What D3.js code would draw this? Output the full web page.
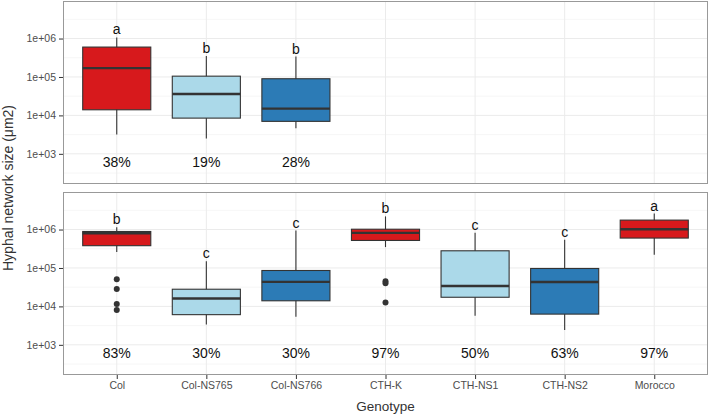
<!DOCTYPE html>
<html>
<head>
<meta charset="utf-8">
<title>Hyphal network size</title>
<style>
  body { margin: 0; background: #fff; }
  svg { display: block; font-family: "Liberation Sans", Arial, sans-serif; }
  .grid-major { stroke: #ebebeb; stroke-width: 1; }
  .grid-minor { stroke: #f4f4f4; stroke-width: 0.8; }
  .tick-lab { fill: #4d4d4d; font-size: 10.5px; }
</style>
</head>
<body>
<svg id="chart" width="709" height="414"></svg>
<script src="https://cdnjs.cloudflare.com/ajax/libs/d3/7.8.5/d3.min.js"></script>
<script>
  // genotypes along the x axis
  const genotypes = ["Col", "Col-NS765", "Col-NS766", "CTH-K", "CTH-NS1", "CTH-NS2", "Morocco"];
  const fills = ["#d7191c", "#abd9e9", "#2c7bb6", "#d7191c", "#abd9e9", "#2c7bb6", "#d7191c"];

  // top panel: lower whisker, Q1, median, Q3, upper whisker
  const topGenotypes = ["Col", "Col-NS765", "Col-NS766"];
  const topLow  = [3200, 2500, 4600];
  const topQ1   = [14000, 8500, 7000];
  const topMed  = [170000, 36000, 15000];
  const topQ3   = [600000, 105000, 90000];
  const topHigh = [1070000, 350000, 340000];
  const topLetters = ["a", "b", "b"];
  const topPct = ["38%", "19%", "28%"];
  const topOutliers = [[], [], []];

  // bottom panel
  const botLow  = [260000, 3400, 5400, 350000, 5700, 2450, 220000];
  const botQ1   = [380000, 6100, 14000, 520000, 17300, 6300, 600000];
  const botMed  = [800000, 16000, 43500, 820000, 34000, 43000, 1020000];
  const botQ3   = [890000, 28000, 86000, 1020000, 280000, 97000, 1760000];
  const botHigh = [1150000, 150000, 940000, 2200000, 830000, 540000, 2600000];
  const botLetters = ["b", "c", "c", "b", "c", "c", "a"];
  const botPct = ["83%", "30%", "30%", "97%", "50%", "63%", "97%"];
  const botOutliers = [[51000, 28500, 11500, 8100], [], [], [45000, 40000, 12600], [], [], []];

  const yTicks = [1e3, 1e4, 1e5, 1e6];
  const yMinor = [Math.pow(10, 2.5), Math.pow(10, 3.5), Math.pow(10, 4.5), Math.pow(10, 5.5), Math.pow(10, 6.5)];
  const pctValue = Math.pow(10, 2.8);

  const svg = d3.select("#chart");
  const left = 63, right = 708;
  const panels = [
    { top: 1, bottom: 184, cats: topGenotypes, low: topLow, q1: topQ1, med: topMed, q3: topQ3, high: topHigh,
      letters: topLetters, pct: topPct, outliers: topOutliers },
    { top: 192, bottom: 375, cats: genotypes, low: botLow, q1: botQ1, med: botMed, q3: botQ3, high: botHigh,
      letters: botLetters, pct: botPct, outliers: botOutliers }
  ];

  const x = d3.scalePoint().domain(genotypes).range([left, right]).padding(0.6);
  const boxW = x.step() * 0.76;

  panels.forEach(function(p, pi) {
    const y = d3.scaleLog().domain([Math.pow(10, 2.215), Math.pow(10, 6.977)]).range([p.bottom, p.top]);
    const g = svg.append("g");

    g.append("rect").attr("x", left).attr("y", p.top).attr("width", right - left).attr("height", p.bottom - p.top)
      .attr("fill", "#fff");

    g.selectAll(".gmin").data(yMinor).enter().append("line").attr("class", "grid-minor")
      .attr("x1", left).attr("x2", right).attr("y1", d => y(d)).attr("y2", d => y(d));
    g.selectAll(".gmaj").data(yTicks).enter().append("line").attr("class", "grid-major")
      .attr("x1", left).attr("x2", right).attr("y1", d => y(d)).attr("y2", d => y(d));
    g.selectAll(".gx").data(genotypes).enter().append("line").attr("class", "grid-major")
      .attr("x1", d => x(d)).attr("x2", d => x(d)).attr("y1", p.top).attr("y2", p.bottom);

    // y axis
    const ax = g.append("g").attr("transform", "translate(" + left + ",0)")
      .call(d3.axisLeft(y).tickValues(yTicks).tickSize(4).tickPadding(3).tickFormat(d => "1e+0" + Math.round(Math.log10(d))));
    ax.select(".domain").remove();
    ax.selectAll(".tick line").attr("stroke", "#333");
    ax.selectAll(".tick text").attr("class", "tick-lab").attr("fill", "#4d4d4d").style("font-size", "10.5px");

    const data = p.cats.map((c, i) => ({ c: c, i: i }));
    const items = g.selectAll(".box").data(data).enter().append("g");

    items.append("line").attr("x1", d => x(d.c)).attr("x2", d => x(d.c))
      .attr("y1", d => y(p.high[d.i])).attr("y2", d => y(p.low[d.i]))
      .attr("stroke", "#333").attr("stroke-width", 1.1);
    items.append("rect").attr("x", d => x(d.c) - boxW / 2).attr("width", boxW)
      .attr("y", d => y(p.q3[d.i])).attr("height", d => y(p.q1[d.i]) - y(p.q3[d.i]))
      .attr("fill", d => fills[genotypes.indexOf(d.c)]).attr("stroke", "#333").attr("stroke-width", 1.1);
    items.append("line").attr("x1", d => x(d.c) - boxW / 2).attr("x2", d => x(d.c) + boxW / 2)
      .attr("y1", d => y(p.med[d.i])).attr("y2", d => y(p.med[d.i]))
      .attr("stroke", "#333").attr("stroke-width", 2.4);
    items.each(function(d) {
      d3.select(this).selectAll("circle").data(p.outliers[d.i]).enter().append("circle")
        .attr("cx", x(d.c)).attr("cy", v => y(v)).attr("r", 3).attr("fill", "#333");
    });
    items.append("text").attr("x", d => x(d.c)).attr("y", d => y(p.high[d.i]) - 3)
      .attr("text-anchor", "middle").style("font-size", "14px").attr("fill", "#111")
      .text(d => p.letters[d.i]);
    items.append("text").attr("x", d => x(d.c)).attr("y", y(pctValue)).attr("dy", "0.36em")
      .attr("text-anchor", "middle").style("font-size", "14px").attr("fill", "#111")
      .text(d => p.pct[d.i]);

    g.append("rect").attr("x", left + 0.5).attr("y", p.top + 0.5).attr("width", right - left - 1)
      .attr("height", p.bottom - p.top - 1).attr("fill", "none").attr("stroke", "#999").attr("stroke-width", 1);

    if (pi === 1) {
      const xa = svg.append("g").attr("transform", "translate(0," + p.bottom + ")")
        .call(d3.axisBottom(x).tickSize(4).tickPadding(3));
      xa.select(".domain").remove();
      xa.selectAll(".tick line").attr("stroke", "#333");
      xa.selectAll(".tick text").attr("fill", "#4d4d4d").style("font-size", "10.5px");
    }
  });

  svg.append("text").attr("x", (left + right) / 2).attr("y", 411).attr("text-anchor", "middle")
    .style("font-size", "13.5px").attr("fill", "#333").text("Genotype");
  svg.append("text").attr("transform", "translate(12.5,188) rotate(-90)").attr("text-anchor", "middle")
    .style("font-size", "14px").attr("fill", "#333").text("Hyphal network size (μm2)");
</script>
</body>
</html>
